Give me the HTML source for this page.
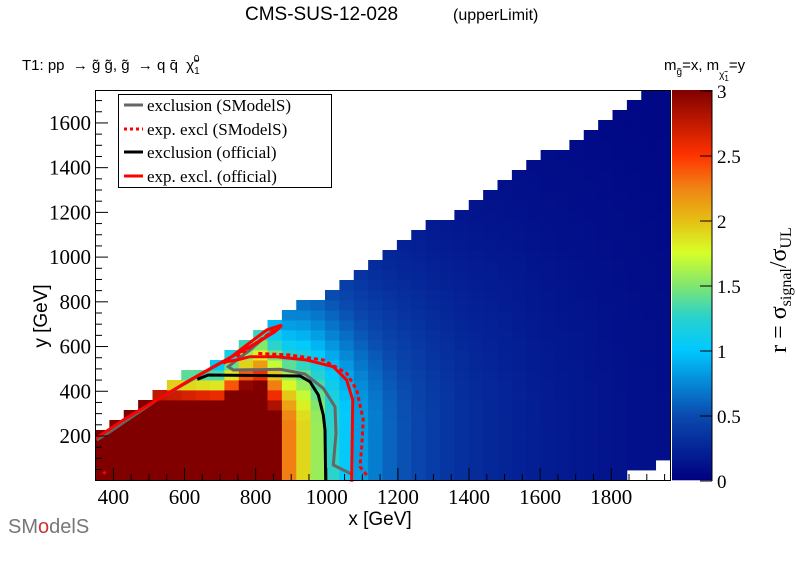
<!DOCTYPE html>
<html><head><meta charset="utf-8"><style>
body{margin:0;background:#fff;}
svg{display:block;}
text{font-family:"Liberation Serif",serif;}
</style></head><body>
<svg id="c" width="796" height="572" xmlns="http://www.w3.org/2000/svg">
<g id="heat"></g>
<g id="cbar"></g>
<g id="ov"></g>
</svg>
<script>
var NS="http://www.w3.org/2000/svg";
function el(p,n,a,t){var e=document.createElementNS(NS,n);for(var k in a)e.setAttribute(k,a[k]);if(t!=null)e.textContent=t;p.appendChild(e);return e;}
var stops=[[0,[0,0,128]],[0.5,[10,75,175]],[1.0,[0,200,255]],[1.25,[40,210,205]],[1.5,[130,230,110]],[1.75,[215,255,40]],[2.0,[230,190,20]],[2.25,[240,130,20]],[2.5,[255,50,0]],[3.0,[128,0,0]]];
function col(r){r=Math.max(0,Math.min(3,r));for(var i=1;i<stops.length;i++){if(r<=stops[i][0]){var a=stops[i-1],b=stops[i],f=(r-a[0])/(b[0]-a[0]);var c=[0,1,2].map(function(j){return Math.round(a[1][j]+(b[1][j]-a[1][j])*f);});return "rgb("+c.join(",")+")";}}return "rgb(128,0,0)";}
var fx=[[350,6],[800,5],[850,3.2],[870,2.5],[910,2.1],[960,1.7],[1000,1.35],[1050,1.05],[1100,0.82],[1150,0.66],[1200,0.55],[1300,0.4],[1400,0.3],[1600,0.19],[1800,0.13],[1980,0.09]];
function F(x){for(var i=1;i<fx.length;i++){if(x<=fx[i][0]){var a=fx[i-1],b=fx[i];return a[1]+(b[1]-a[1])*(x-a[0])/(b[0]-a[0]);}}return 0.09;}
function R(x,y){var c=Math.max(131,131+(x-700)*1.08);var d=Math.max(0,y-250)/c;return F(x)/(1+d*d);}
function X(px){return 400+(px-113.4)/0.3556;}
function Y(py){return (480.7-py)/0.2236;}
var h=document.getElementById("heat");
var x0=95,x1=670,y0=90,y1=480,nc=40,nr=39;var cw=(x1-x0)/nc,rh=(y1-y0)/nr;
for(var i=0;i<nc;i++){for(var j=0;j<nr;j++){var px=x0+i*cw,py=y1-(j+1)*rh;var cx=px+cw/2,cy=py+rh/2;
var lim=440-(cx-96)*0.612;if(cy<lim-9)continue;
if(cx>657&&cy>463)continue;if(cx>627&&cy>472)continue;
el(h,"rect",{x:px.toFixed(2),y:py.toFixed(2),width:(cw+0.4).toFixed(2),height:(rh+0.4).toFixed(2),fill:col(R(X(cx),Y(cy)))});}}
var cb=document.getElementById("cbar");
for(var k=0;k<390;k++){var r=3*(1-(k+0.5)/390);el(cb,"rect",{x:672,y:90+k,width:40,height:1.3,fill:col(r)});}
var ov=document.getElementById("ov");
function P(pts){return pts.map(function(p){return (90+p[0]/3).toFixed(1)+","+(300+p[1]/3).toFixed(1);}).join(" ");}
el(ov,"polyline",{points:P([[790,525],[730,495],[738,400],[735,320],[700,265],[645,222],[570,208],[430,210],[415,200],[440,180],[480,150],[550,90],[575,80],[560,90],[480,140],[440,160],[400,185],[330,225],[200,300],[60,395],[20,420]]),fill:"none",stroke:"#666",'stroke-width':3});
el(ov,"polyline",{points:"197.3,379.3 208.3,375 300,376 310,381.7 318.3,395 323.3,415 325,430 325.7,480",fill:"none",stroke:"#000",'stroke-width':3});
el(ov,"polyline",{points:P([[785,545],[788,300],[770,240],[730,200],[650,180],[560,170],[480,170],[440,180],[410,185],[400,190],[450,150],[530,90],[575,75],[555,95],[490,135],[380,195],[300,240],[200,300],[100,360],[18,415]]),fill:"none",stroke:"#f00",'stroke-width':3});
el(ov,"polyline",{points:P([[830,525],[810,500],[815,440],[820,360],[800,270],[770,220],[700,180],[600,165],[500,160]]),fill:"none",stroke:"#f00",'stroke-width':3,'stroke-dasharray':"4,3"});
el(ov,"polyline",{points:P([[440,170],[490,135],[560,85],[570,80]]),fill:"none",stroke:"#f00",'stroke-width':3,'stroke-dasharray':"4,3"});
el(ov,"polyline",{points:P([[40,515],[50,525]]),fill:"none",stroke:"#f00",'stroke-width':3,'stroke-dasharray':"3,3"});
el(ov,"rect",{x:95.5,y:90.5,width:575,height:390,fill:"none",stroke:"#000",'stroke-width':1});
for(var g=350;g<=1950;g+=50){var px=113.4+(g-400)*0.3556;if(px<96||px>670)continue;var L=(g%200==0)?12:6;el(ov,"line",{x1:px,y1:480,x2:px,y2:480-L,stroke:"#000"});}
[400,600,800,1000,1200,1400,1600,1800].forEach(function(g){var px=113.4+(g-400)*0.3556;el(ov,"text",{x:px,y:504,'font-size':21,'text-anchor':"middle"},g);});
for(var g=50;g<=1700;g+=50){var py=480.7-g*0.2236;var L=(g%200==0)?12:6;el(ov,"line",{x1:96,y1:py,x2:96+L,y2:py,stroke:"#000"});}
[200,400,600,800,1000,1200,1400,1600].forEach(function(g){var py=480.7-g*0.2236;el(ov,"text",{x:91,y:py+7,'font-size':21,'text-anchor':"end"},g);});
[3,2.5,2,1.5,1,0.5,0].forEach(function(v){var py=481-v*130;el(ov,"line",{x1:700,y1:py,x2:712,y2:py,stroke:"#000"});el(ov,"text",{x:717,y:py+7,'font-size':19},v);});
el(ov,"line",{x1:712,y1:90,x2:712,y2:481,stroke:"#000"});
</script>
<svg width="796" height="572" style="position:absolute;left:0;top:0" xmlns="http://www.w3.org/2000/svg">
<text x="245" y="20" font-size="19" style="font-family:'Liberation Sans',sans-serif">CMS-SUS-12-028</text>
<text x="453" y="20" font-size="16" style="font-family:'Liberation Sans',sans-serif">(upperLimit)</text>
<text x="22" y="70" font-size="15" style="font-family:'Liberation Sans',sans-serif" xml:space="preserve">T1: pp  → g̃ g̃, g̃  → q q̄  χ̃<tspan font-size="10" dy="4">1</tspan><tspan font-size="10" dx="-6" dy="-12">0</tspan></text>
<text x="664" y="70" font-size="15" style="font-family:'Liberation Sans',sans-serif">m<tspan font-size="10" dy="5">g̃</tspan><tspan dy="-5">=x, m</tspan><tspan font-size="10" dy="8">χ̃</tspan><tspan font-size="8" dy="3">1</tspan><tspan dy="-11">=y</tspan></text>
<text x="380" y="525" font-size="19" text-anchor="middle" style="font-family:'Liberation Sans',sans-serif">x [GeV]</text>
<text transform="translate(47,316) rotate(-90)" font-size="19" text-anchor="middle" style="font-family:'Liberation Sans',sans-serif">y [GeV]</text>
<text transform="translate(786,290) rotate(-90)" font-size="24" text-anchor="middle" style="font-family:'Liberation Serif',serif">r = σ<tspan font-size="16" dy="5">signal</tspan><tspan dy="-5">/σ</tspan><tspan font-size="16" dy="5">UL</tspan></text>
<rect x="118.5" y="94.5" width="213" height="93" fill="#fff" stroke="#000"/>
<line x1="124" y1="105" x2="143" y2="105" stroke="#666" stroke-width="3"/>
<line x1="124" y1="129" x2="143" y2="129" stroke="#f00" stroke-width="3" stroke-dasharray="3,3"/>
<line x1="124" y1="152" x2="143" y2="152" stroke="#000" stroke-width="3"/>
<line x1="124" y1="176" x2="143" y2="176" stroke="#f00" stroke-width="3"/>
<g font-size="17" style="font-family:'Liberation Serif',serif">
<text x="147" y="111">exclusion (SModelS)</text>
<text x="147" y="135">exp. excl (SModelS)</text>
<text x="147" y="158">exclusion (official)</text>
<text x="147" y="182">exp. excl. (official)</text>
</g>
<text x="8" y="533" font-size="20" fill="#777" style="font-family:'Liberation Sans',sans-serif">SM<tspan fill="#c33">o</tspan>delS</text>
</svg>
</body></html>
